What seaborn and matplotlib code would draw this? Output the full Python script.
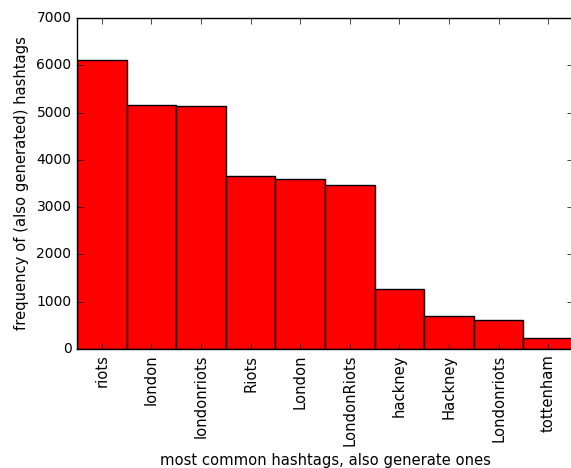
import matplotlib
matplotlib.use("Agg")
import matplotlib.pyplot as plt
import pandas as pd
import seaborn as sns

hashtags = ["riots", "london", "londonriots", "Riots", "London",
            "LondonRiots", "hackney", "Hackney", "Londonriots", "tottenham"]
counts = [6110, 5165, 5135, 3655, 3595, 3470, 1270, 705, 610, 230]

plt.style.use("classic")
plt.rcParams["figure.facecolor"] = "white"
plt.rcParams["savefig.facecolor"] = "white"
plt.rcParams["font.family"] = ["DejaVu Sans"]
plt.rcParams["font.size"] = 10

df = pd.DataFrame({"tag": hashtags, "count": counts})

fig = plt.figure(figsize=(5.71, 4.68), dpi=100)
ax = fig.add_axes([77 / 571, 119 / 468, 496 / 571, 331 / 468])
sns.barplot(data=df, x="tag", y="count", color="red", saturation=1,
            width=1.0, edgecolor="black", linewidth=1.0, ax=ax)

ax.set_xlim(-0.5, len(hashtags) - 0.5)
ax.set_ylim(0, 7000)
ax.set_yticks(range(0, 7001, 1000))
ax.tick_params(axis="x", labelrotation=90, labelsize=10.6)
ax.tick_params(axis="y", labelsize=10)
ax.set_xlabel("most common hashtags, also generate ones", fontsize=10.6)
ax.set_ylabel("frequency of (also generated) hashtags", fontsize=10.6)

fig.savefig("out.png", dpi=100)
